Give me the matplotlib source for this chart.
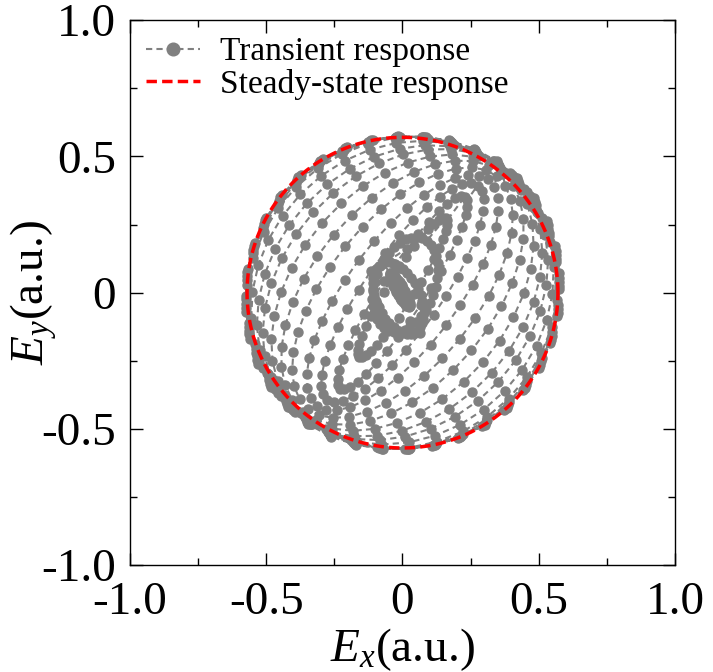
import numpy as np
import matplotlib
matplotlib.use("Agg")
import matplotlib.pyplot as plt
from matplotlib.ticker import FixedLocator, FuncFormatter

plt.rcParams['font.family'] = ['Liberation Serif', 'DejaVu Serif']
plt.rcParams['mathtext.fontset'] = 'custom'
plt.rcParams['mathtext.rm'] = 'Liberation Serif'
plt.rcParams['mathtext.it'] = 'Liberation Serif:italic'

# transient trajectory, one ellipse per optical cycle
cycle_a = [0.07, 0.14, 0.18, 0.30, 0.42, 0.48, 0.52, 0.55, 0.57, 0.58,
           0.59, 0.59, 0.59, 0.595, 0.59, 0.585, 0.58, 0.575]
cycle_b = [0.015, 0.08, 0.11, 0.05, 0.08, 0.14, 0.20, 0.27, 0.33, 0.39,
           0.44, 0.48, 0.52, 0.55, 0.56, 0.565, 0.57, 0.57]
cycle_tilt = [120, 115, 70, 58, 57, 55, 53, 51, 50, 49,
              48, 47, 46, 45, 44, 43, 42, 41]
cycle_cx = [-0.01, -0.015, 0.01, 0.0, 0.0, 0.0, 0.0, 0.0, 0.0, 0.0,
            0.0, 0.0, 0.0, 0.0, 0.0, 0.0, 0.0, 0.0]
cycle_cy = [0.01, -0.02, 0.03, 0.02, 0.0, 0.0, 0.0, 0.0, 0.0, 0.0,
            0.0, 0.0, 0.0, 0.0, 0.0, 0.0, 0.0, 0.0]
pts_per_cycle = 36

ss_radius = 0.57

ticks = [-1.0, -0.5, 0.0, 0.5, 1.0]
minor_ticks = [-0.75, -0.25, 0.25, 0.75]


def tick_fmt(v, pos):
    if abs(v) < 1e-9:
        return "0"
    return "%.1f" % v


ex, ey = [], []
phi = np.arange(pts_per_cycle) * 2 * np.pi / pts_per_cycle
for a, b, t, cx, cy in zip(cycle_a, cycle_b, cycle_tilt, cycle_cx, cycle_cy):
    th = np.deg2rad(t)
    u = a * np.cos(phi)
    v = b * np.sin(phi)
    ex.extend(cx + u * np.cos(th) - v * np.sin(th))
    ey.extend(cy + u * np.sin(th) + v * np.cos(th))

fig = plt.figure(figsize=(7.13, 6.72), dpi=100)
ax = fig.add_axes([0.182, 0.159, 0.765, 0.811])

ax.plot(ex, ey, color="gray", linestyle=(0, (3, 2)), linewidth=1.5,
        marker="o", markersize=6.5, label="Transient response")

s = np.linspace(0, 2 * np.pi, 400)
ax.plot(ss_radius * np.cos(s), ss_radius * np.sin(s), color="red",
        linestyle=(0, (3, 1.5)), linewidth=2.5, label="Steady-state response")

ax.set_xlim(-1, 1)
ax.set_ylim(-1, 1)
for axis in (ax.xaxis, ax.yaxis):
    axis.set_major_locator(FixedLocator(ticks))
    axis.set_minor_locator(FixedLocator(minor_ticks))
    axis.set_major_formatter(FuncFormatter(tick_fmt))
ax.tick_params(which="both", direction="in", top=True, right=True, labelsize=34)
ax.tick_params(which="major", length=9, width=1.0)
ax.tick_params(which="minor", length=5, width=1.0)
ax.tick_params(axis="x", pad=12)
ax.tick_params(axis="y", pad=10)
for sp in ax.spines.values():
    sp.set_linewidth(1.0)

ax.set_xlabel(r"$E_x$(a.u.)", fontsize=34)
ax.set_ylabel(r"$E_y$(a.u.)", fontsize=34)
ax.xaxis.set_label_coords(0.5, -0.112)
ax.yaxis.set_label_coords(-0.13, 0.5)

leg = ax.legend(loc="upper left", frameon=False, fontsize=24, handlelength=1.6,
                borderaxespad=0.1, handletextpad=0.6, labelspacing=0.05,
                markerscale=1.4)

fig.savefig("out.png", dpi=100)
